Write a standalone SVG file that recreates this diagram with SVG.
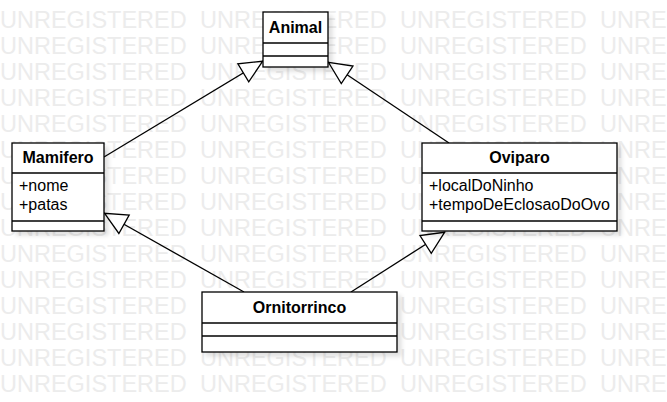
<svg xmlns="http://www.w3.org/2000/svg" width="667" height="402" viewBox="0 0 667 402">
<style>
.wm{font-family:"Liberation Sans",Arial,sans-serif;font-size:23.5px;fill:#ececec}
.box{fill:#fff;stroke:#000;stroke-width:1.3}
.sep{stroke:#000;stroke-width:1.3}
.title{font-family:"Liberation Sans",Arial,sans-serif;font-size:16px;font-weight:bold;fill:#000;text-anchor:middle}
.attr{font-family:"Liberation Sans",Arial,sans-serif;font-size:16px;fill:#000}
.conn{stroke:#000;stroke-width:1.3;fill:none;marker-end:url(#gen)}
</style>
<defs>
<filter id="sh" x="-10%" y="-10%" width="130%" height="140%">
<feGaussianBlur in="SourceAlpha" stdDeviation="2"/>
<feOffset dx="4" dy="4" result="b"/>
<feComponentTransfer><feFuncA type="linear" slope="0.12"/></feComponentTransfer>
<feMerge><feMergeNode/><feMergeNode in="SourceGraphic"/></feMerge>
</filter>
<marker id="gen" markerUnits="userSpaceOnUse" markerWidth="27" markerHeight="24" refX="24.5" refY="12" orient="auto">
<path d="M24,12 L1.5,1.5 L1.5,22.5 Z" fill="#fff" stroke="#000" stroke-width="1.3"/>
</marker>
</defs>
<rect width="667" height="402" fill="#fff"/>
<g id="watermark" class="wm">
<text y="28"><tspan x="0">UNREGISTERED</tspan><tspan x="200">UNREGISTERED</tspan><tspan x="400">UNREGISTERED</tspan><tspan x="600">UNREGISTERED</tspan></text>
<text y="54"><tspan x="0">UNREGISTERED</tspan><tspan x="200">UNREGISTERED</tspan><tspan x="400">UNREGISTERED</tspan><tspan x="600">UNREGISTERED</tspan></text>
<text y="80"><tspan x="0">UNREGISTERED</tspan><tspan x="200">UNREGISTERED</tspan><tspan x="400">UNREGISTERED</tspan><tspan x="600">UNREGISTERED</tspan></text>
<text y="106"><tspan x="0">UNREGISTERED</tspan><tspan x="200">UNREGISTERED</tspan><tspan x="400">UNREGISTERED</tspan><tspan x="600">UNREGISTERED</tspan></text>
<text y="132"><tspan x="0">UNREGISTERED</tspan><tspan x="200">UNREGISTERED</tspan><tspan x="400">UNREGISTERED</tspan><tspan x="600">UNREGISTERED</tspan></text>
<text y="158"><tspan x="0">UNREGISTERED</tspan><tspan x="200">UNREGISTERED</tspan><tspan x="400">UNREGISTERED</tspan><tspan x="600">UNREGISTERED</tspan></text>
<text y="184"><tspan x="0">UNREGISTERED</tspan><tspan x="200">UNREGISTERED</tspan><tspan x="400">UNREGISTERED</tspan><tspan x="600">UNREGISTERED</tspan></text>
<text y="210"><tspan x="0">UNREGISTERED</tspan><tspan x="200">UNREGISTERED</tspan><tspan x="400">UNREGISTERED</tspan><tspan x="600">UNREGISTERED</tspan></text>
<text y="236"><tspan x="0">UNREGISTERED</tspan><tspan x="200">UNREGISTERED</tspan><tspan x="400">UNREGISTERED</tspan><tspan x="600">UNREGISTERED</tspan></text>
<text y="262"><tspan x="0">UNREGISTERED</tspan><tspan x="200">UNREGISTERED</tspan><tspan x="400">UNREGISTERED</tspan><tspan x="600">UNREGISTERED</tspan></text>
<text y="288"><tspan x="0">UNREGISTERED</tspan><tspan x="200">UNREGISTERED</tspan><tspan x="400">UNREGISTERED</tspan><tspan x="600">UNREGISTERED</tspan></text>
<text y="314"><tspan x="0">UNREGISTERED</tspan><tspan x="200">UNREGISTERED</tspan><tspan x="400">UNREGISTERED</tspan><tspan x="600">UNREGISTERED</tspan></text>
<text y="340"><tspan x="0">UNREGISTERED</tspan><tspan x="200">UNREGISTERED</tspan><tspan x="400">UNREGISTERED</tspan><tspan x="600">UNREGISTERED</tspan></text>
<text y="366"><tspan x="0">UNREGISTERED</tspan><tspan x="200">UNREGISTERED</tspan><tspan x="400">UNREGISTERED</tspan><tspan x="600">UNREGISTERED</tspan></text>
<text y="392"><tspan x="0">UNREGISTERED</tspan><tspan x="200">UNREGISTERED</tspan><tspan x="400">UNREGISTERED</tspan><tspan x="600">UNREGISTERED</tspan></text>
</g>
<g id="connectors">
<line class="conn" x1="104" y1="157" x2="263" y2="61"/>
<line class="conn" x1="449" y1="143" x2="328" y2="62"/>
<line class="conn" x1="244" y1="292" x2="104" y2="213"/>
<line class="conn" x1="351" y1="292" x2="445" y2="232"/>
</g>
<g id="animal">
<rect class="box" x="263" y="12" width="65" height="55" filter="url(#sh)"/>
<line class="sep" x1="263" y1="43" x2="328" y2="43"/>
<line class="sep" x1="263" y1="56" x2="328" y2="56"/>
<text class="title" x="295.5" y="33">Animal</text>
</g>
<g id="mamifero">
<rect class="box" x="12" y="143" width="92" height="88" filter="url(#sh)"/>
<line class="sep" x1="12" y1="173" x2="104" y2="173"/>
<line class="sep" x1="12" y1="221" x2="104" y2="221"/>
<text class="title" x="58" y="163">Mamifero</text>
<text class="attr" x="19" y="191">+nome</text>
<text class="attr" x="19" y="210">+patas</text>
</g>
<g id="oviparo">
<rect class="box" x="422" y="143" width="195" height="88" filter="url(#sh)"/>
<line class="sep" x1="422" y1="173" x2="617" y2="173"/>
<line class="sep" x1="422" y1="221" x2="617" y2="221"/>
<text class="title" x="519.5" y="163">Oviparo</text>
<text class="attr" x="429" y="191">+localDoNinho</text>
<text class="attr" x="429" y="210">+tempoDeEclosaoDoOvo</text>
</g>
<g id="ornitorrinco">
<rect class="box" x="202" y="292" width="195" height="60" filter="url(#sh)"/>
<line class="sep" x1="202" y1="323" x2="397" y2="323"/>
<line class="sep" x1="202" y1="336" x2="397" y2="336"/>
<text class="title" x="299.5" y="313">Ornitorrinco</text>
</g>
</svg>
